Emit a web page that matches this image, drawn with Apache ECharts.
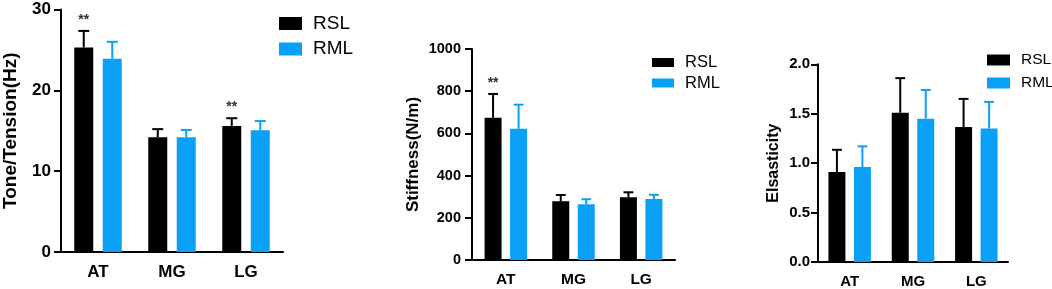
<!DOCTYPE html>
<html>
<head>
<meta charset="utf-8">
<title>RSL vs RML</title>
<script src="https://cdn.jsdelivr.net/npm/echarts@6/dist/echarts.min.js"></script>
<style>
html, body { margin: 0; padding: 0; background: #fff; }
#chart { width: 1052px; height: 289px; }
</style>
</head>
<body>
<div id="chart"></div>
<script>
// data (mean and upper SD)
var categories = ['AT', 'MG', 'LG'];
var groups = ['RSL', 'RML'];

var toneRSL = [25.3, 14.2, 15.6];
var toneRSLErr = [2.05, 1.0, 0.95];
var toneRML = [23.9, 14.2, 15.05];
var toneRMLErr = [2.1, 0.9, 1.15];
var toneSig = ['**', '', '**'];

var stiffRSL = [674, 278, 297];
var stiffRSLErr = [113, 30, 24];
var stiffRML = [622, 264, 289];
var stiffRMLErr = [114, 24, 20];
var stiffSig = ['**', '', ''];

var elasRSL = [0.91, 1.51, 1.365];
var elasRSLErr = [0.225, 0.35, 0.285];
var elasRML = [0.96, 1.45, 1.35];
var elasRMLErr = [0.21, 0.29, 0.27];
var elasSig = ['', '', ''];

var FONT = '"Liberation Sans", Arial, sans-serif';
var COLORS = ['#000000', '#0BA0F8'];

var panels = [
	{
		name: 'Tone/Tension(Hz)', values: [toneRSL, toneRML], errors: [toneRSLErr, toneRMLErr], sig: toneSig,
		max: 30, interval: 10, decimals: 0,
		grid: { left: 58, top: 9.5, width: 225, height: 242.5 },
		barWidth: 19, tickFont: 17, catFont: 17, nameFont: 19, nameGap: 41, labelMargin: 10,
		legend: { left: 279, top: 14, font: 19, gap: 6.5, iconW: 23, iconH: 13 }
	},
	{
		name: 'Stiffness(N/m)', values: [stiffRSL, stiffRML], errors: [stiffRSLErr, stiffRMLErr], sig: stiffSig,
		max: 1000, interval: 200, decimals: 0,
		grid: { left: 472, top: 49, width: 203, height: 211 },
		barWidth: 17, tickFont: 14.5, catFont: 15.5, nameFont: 17, nameGap: 50, labelMargin: 11,
		legend: { left: 652, top: 54, font: 16.5, gap: 3.5, iconW: 22, iconH: 9 }
	},
	{
		name: 'Elsasticity', values: [elasRSL, elasRML], errors: [elasRSLErr, elasRMLErr], sig: elasSig,
		max: 2, interval: 0.5, decimals: 1,
		grid: { left: 818, top: 64.3, width: 190, height: 198.4 },
		barWidth: 17, tickFont: 15, catFont: 15, nameFont: 16, nameGap: 36, labelMargin: 8,
		legend: { left: 987, top: 52, font: 15.5, gap: 7, iconW: 23, iconH: 11 }
	}
];

/**
 * error bar (upper only) plus significance mark
 */
function errorRenderer(barWidth, side, color, sig) {
	return function (params, api) {
		var idx = api.value(0);
		var base = api.coord([idx, api.value(1)]);
		var top = api.coord([idx, api.value(1) + api.value(2)]);
		var x = base[0] + side * barWidth * 0.75;
		var cap = barWidth * 0.29;
		var children = [
			{ type: 'line', shape: { x1: x, y1: base[1], x2: x, y2: top[1] }, style: { stroke: color, lineWidth: 2 } },
			{ type: 'line', shape: { x1: x - cap, y1: top[1], x2: x + cap, y2: top[1] }, style: { stroke: color, lineWidth: 2 } }
		];
		if (sig && sig[idx]) {
			children.push({
				type: 'text', x: x, y: top[1] - 4,
				style: { text: sig[idx], align: 'center', verticalAlign: 'bottom', fontFamily: FONT, fontWeight: 'bold', fontSize: 14, fill: '#333' }
			});
		}
		return { type: 'group', children: children };
	};
}

var option = { animation: false, grid: [], xAxis: [], yAxis: [], legend: [], series: [] };

panels.forEach(function (p, k) {
	option.grid.push(p.grid);
	option.xAxis.push({
		type: 'category', gridIndex: k, data: categories,
		axisLine: { lineStyle: { color: '#000', width: 2 } },
		axisTick: { alignWithLabel: true, length: 8, lineStyle: { width: 2, color: '#000' } },
		axisLabel: { color: '#000', fontFamily: FONT, fontWeight: 'bold', fontSize: p.catFont, margin: 12 }
	});
	option.yAxis.push({
		type: 'value', gridIndex: k, min: 0, max: p.max, interval: p.interval,
		name: p.name, nameLocation: 'middle', nameGap: p.nameGap,
		nameTextStyle: { color: '#000', fontFamily: FONT, fontWeight: 'bold', fontSize: p.nameFont },
		axisLine: { show: true, lineStyle: { color: '#000', width: 2 } },
		axisTick: { show: true, length: 7, lineStyle: { width: 2, color: '#000' } },
		splitLine: { show: false },
		axisLabel: {
			color: '#000', fontFamily: FONT, fontWeight: 'bold', fontSize: p.tickFont, margin: p.labelMargin,
			formatter: function (v) { return v.toFixed(p.decimals); }
		}
	});
	option.legend.push({
		orient: 'vertical', left: p.legend.left, top: p.legend.top, padding: 0,
		itemWidth: p.legend.iconW, itemHeight: p.legend.iconH, itemGap: p.legend.gap,
		textStyle: { color: '#000', fontFamily: FONT, fontSize: p.legend.font, lineHeight: p.legend.font, padding: [0, 0, 0, 6] },
		data: groups.map(function (g) { return { name: g, icon: 'rect' }; })
	});
	groups.forEach(function (g, j) {
		option.series.push({
			name: g, type: 'bar', xAxisIndex: k, yAxisIndex: k,
			barWidth: p.barWidth, barGap: '50%',
			itemStyle: { color: COLORS[j] },
			data: p.values[j]
		});
	});
	groups.forEach(function (g, j) {
		option.series.push({
			type: 'custom', xAxisIndex: k, yAxisIndex: k, z: 3,
			renderItem: errorRenderer(p.barWidth, j === 0 ? -1 : 1, COLORS[j], j === 0 ? p.sig : null),
			data: p.values[j].map(function (v, i) { return [i, v, p.errors[j][i]]; })
		});
	});
});

var myChart = echarts.init(document.getElementById('chart'));
myChart.setOption(option);
</script>
</body>
</html>
